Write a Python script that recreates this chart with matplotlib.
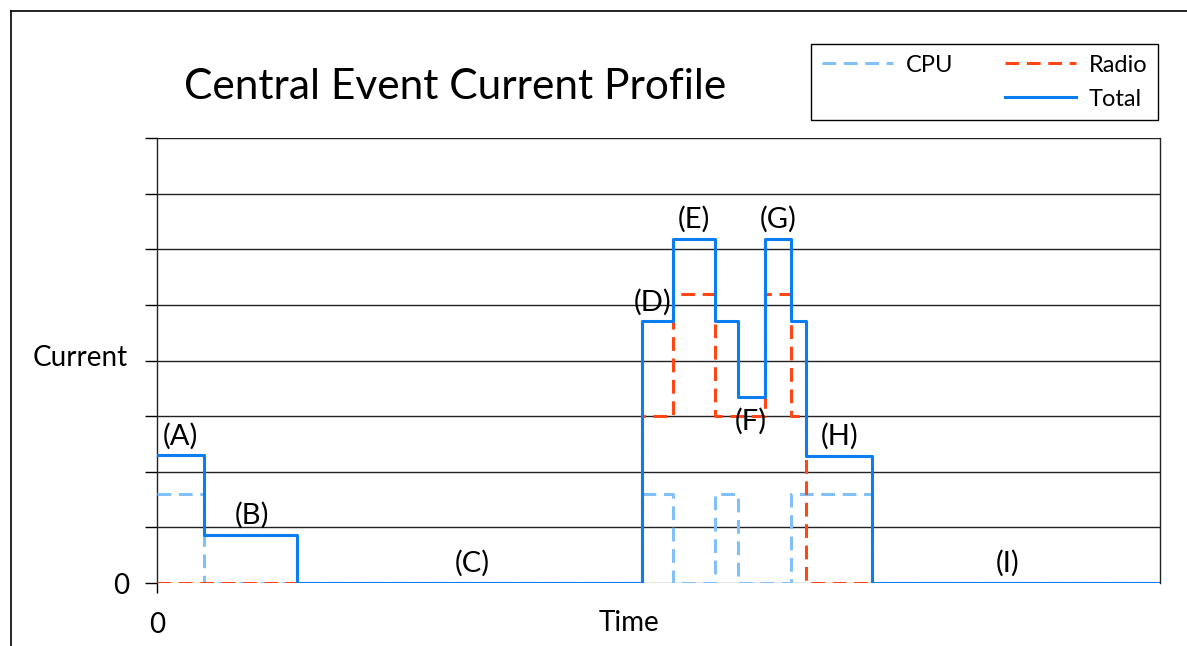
import matplotlib
matplotlib.use("Agg")
import matplotlib.pyplot as plt
from matplotlib.lines import Line2D

# ---- data (time in arbitrary units, current in grid units) ----
edges = [0, 4.7, 14.0, 48.5, 51.6, 55.8, 58.1, 60.8, 63.4, 64.9, 71.5, 100.3]
total = [2.30, 0.86, 0.0, 4.71, 6.19, 4.71, 3.35, 6.19, 4.71, 2.28, 0.0]
cpu   = [1.60, 0.0, 0.0, 1.60, 0.0, 1.60, 0.0, 0.0, 1.60, 1.60, 0.0]
radio = [0.0, 0.0, 0.0, 3.00, 5.20, 3.00, 3.00, 5.20, 3.00, 0.0, 0.0]
phase_labels = ["(A)", "(B)", "(C)", "(D)", "(E)", "(F)", "(G)", "(H)", "(I)"]
phase_x = [2.3, 9.5, 31.5, 49.6, 53.7, 59.4, 62.1, 68.3, 85.1]
phase_y = [2.63, 1.21, 0.35, 5.05, 6.53, 2.90, 6.53, 2.63, 0.35]

FONT = "Lato"
W, H = 1187, 646
fig = plt.figure(figsize=(W / 100, H / 100), dpi=100)
ax = fig.add_axes([157 / W, 1 - 583 / H, (1160 - 157) / W, (583 - 138) / H])

def steps(vals):
    xs, ys = [], []
    for i, v in enumerate(vals):
        xs += [edges[i], edges[i + 1]]
        ys += [v, v]
    return xs, ys

for yv in range(0, 9):
    ax.axhline(yv, color="#222222" if yv else "#808080", lw=1.0, zorder=1)

x, y = steps(cpu)
ax.plot(x, y, color="#82c0fa", lw=2.2, ls=(0, (4.5, 2.5)), zorder=3, label="CPU")
x, y = steps(radio)
ax.plot(x, y, color="#ff4614", lw=2.2, ls=(0, (4.5, 2.5)), zorder=4, label="Radio")
x, y = steps(total)
ax.plot(x, y, color="#0a7ef0", lw=2.2, zorder=5, label="Total")

for lab, lx, ly in zip(phase_labels, phase_x, phase_y):
    ax.text(lx, ly, lab, ha="center", va="center", fontsize=21, family=FONT, zorder=6)

ax.set_xlim(0, 100.3)
ax.set_ylim(0, 8)
for s in ["top", "bottom"]:
    ax.spines[s].set_visible(False)
for s in ["left", "right"]:
    ax.spines[s].set_color("#222222")
    ax.spines[s].set_linewidth(1.0)
ax.set_yticks(range(0, 9))
ax.set_yticklabels(["0"] + [""] * 8)
ax.set_xticks([0])
ax.set_xticklabels(["0"])
ax.tick_params(axis="y", length=9, width=1.0, color="black", labelsize=20, pad=11)
ax.tick_params(axis="x", length=7, width=1.0, color="black", labelsize=20, pad=14)
for t in ax.get_xticklabels() + ax.get_yticklabels():
    t.set_family(FONT)

fig.text(80 / W, 1 - 358 / H, "Current", ha="center", va="center", fontsize=20, family=FONT)
fig.text(629 / W, 1 - 623 / H, "Time", ha="center", va="center", fontsize=20, family=FONT)
fig.text(455 / W, 1 - 87 / H, "Central Event Current Profile", ha="center", va="center",
         fontsize=30.6, family=FONT)

blank = Line2D([], [], color="none")
h = ax.get_legend_handles_labels()[0]
leg = fig.legend([h[0], blank, h[1], h[2]], ["CPU", "", "Radio", "Total"], ncol=2,
                 loc="upper right", bbox_to_anchor=(1158 / W, 1 - 44 / H), borderaxespad=0,
                 frameon=True, fancybox=False, edgecolor="black", framealpha=1,
                 prop={"family": FONT, "size": 17}, handlelength=3.0, handletextpad=0.55,
                 columnspacing=2.2, labelspacing=0.55, borderpad=0.45)
leg.get_frame().set_linewidth(1.0)

fig.add_artist(Line2D([11 / W, 11 / W], [0, 1 - 11 / H], color="black", lw=1.2,
                      transform=fig.transFigure))
fig.add_artist(Line2D([11 / W, 1], [1 - 11 / H, 1 - 11 / H], color="black", lw=1.2,
                      transform=fig.transFigure))

fig.savefig("out.png", dpi=100)
